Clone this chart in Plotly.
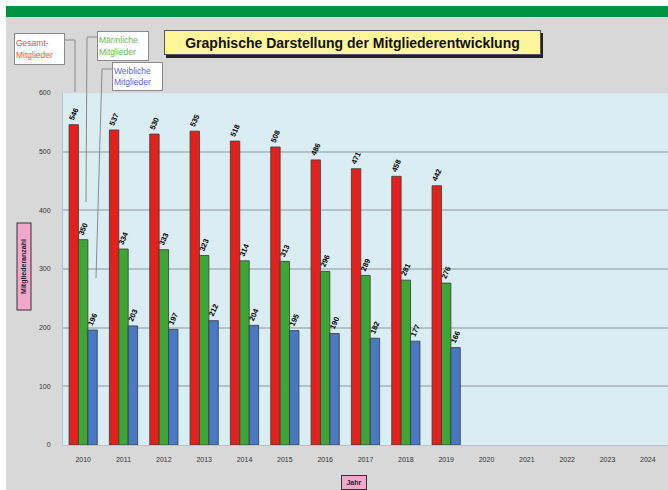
import plotly.graph_objects as go

years = [str(y) for y in range(2010, 2025)]
gesamt = [546, 537, 530, 535, 518, 508, 486, 471, 458, 442]
maennlich = [350, 334, 333, 323, 314, 313, 296, 289, 281, 276]
weiblich = [196, 203, 197, 212, 204, 195, 190, 182, 177, 166]
y_ticks = [0, 100, 200, 300, 400, 500, 600]

W, H = 668, 490
L, R, T, B = 63, 0, 93, 45
PW, PH = W - L - R, H - T - B


def px(x):
    return (x - L) / PW


def py(y):
    return (H - B - y) / PH


fig = go.Figure()
series = [
    ("Gesamt-Mitglieder", gesamt, "#e3211c"),
    ("Männliche Mitglieder", maennlich, "#3fa535"),
    ("Weibliche Mitglieder", weiblich, "#4a78c2"),
]
for name, vals, col in series:
    fig.add_trace(go.Bar(
        x=years[:len(vals)], y=vals, name=name,
        marker=dict(color=col, line=dict(color="#3a3a3a", width=0.8)),
        text=[str(v) for v in vals], textposition="outside",
        textangle=-66, constraintext="none", cliponaxis=False,
        textfont=dict(size=7.5, color="black", family="Liberation Sans", weight="bold"),
    ))

fig.update_layout(
    width=W, height=H, margin=dict(l=L, r=R, t=T, b=B, pad=0),
    paper_bgcolor="#d8d8d8", plot_bgcolor="#daedf2",
    barmode="group", bargap=0.3, bargroupgap=0, showlegend=False,
    font=dict(family="Liberation Sans Narrow, Liberation Sans", size=7, color="#333"),
    xaxis=dict(categoryorder="array", categoryarray=years, tickvals=years,
               range=[-0.5, 14.5], showgrid=False, ticks="", ticklabelstandoff=8,
               showline=True, linecolor="#b8c4c8", linewidth=1,
               tickfont=dict(size=7, color="#333")),
    yaxis=dict(range=[0, 600], tickvals=y_ticks, showgrid=True, gridcolor="#b2c2c6",
               gridwidth=1.6, zeroline=False, showline=True, linecolor="#b8c4c8",
               linewidth=1, ticks="", ticklabelstandoff=10,
               tickfont=dict(size=7, color="#333")),
)

shapes = []
# white border + green header band
shapes.append(dict(type="rect", xref="paper", yref="paper", x0=px(0), x1=px(W), y0=py(0), y1=py(6),
                   fillcolor="white", line=dict(width=0), layer="above"))
shapes.append(dict(type="rect", xref="paper", yref="paper", x0=px(0), x1=px(6), y0=py(0), y1=py(H),
                   fillcolor="white", line=dict(width=0), layer="above"))
shapes.append(dict(type="rect", xref="paper", yref="paper", x0=px(6), x1=px(W), y0=py(6), y1=py(17),
                   fillcolor="#00923f", line=dict(width=0), layer="above"))
# title shadow
shapes.append(dict(type="rect", xref="paper", yref="paper", x0=px(166), x1=px(543), y0=py(33), y1=py(58),
                   fillcolor="#222", line=dict(width=0), layer="above"))
# leader lines
lc = dict(color="#8a8a8a", width=1)
for pts in [[(64, 40), (75, 40), (75, 92)],
            [(98, 37), (87, 37), (86, 202)],
            [(113, 69), (102, 69), (96, 278)]]:
    path = "M " + " L ".join(f"{px(a)},{py(b)}" for a, b in pts)
    shapes.append(dict(type="path", xref="paper", yref="paper", path=path, line=lc, layer="above"))
fig.update_layout(shapes=shapes)

ann = []
ann.append(dict(text="<b>Graphische Darstellung der Mitgliederentwicklung</b>", xref="paper", yref="paper",
                x=px(352), y=py(43), showarrow=False, xanchor="center", yanchor="middle",
                font=dict(family="Liberation Sans", size=14, color="#111"),
                bgcolor="#fdf59a", bordercolor="#555", borderwidth=1, width=373, height=21))
for txt, cx, cy, w, h, col in [("Gesamt-<br>Mitglieder", 39.5, 49, 47, 28, "#f0562a"),
                               ("Männliche<br>Mitglieder", 123, 46, 48, 26, "#6cb84a"),
                               ("Weibliche<br>Mitglieder", 137.5, 76.5, 47, 25, "#5a64d0")]:
    ann.append(dict(text=txt, xref="paper", yref="paper", x=px(cx), y=py(cy), showarrow=False,
                    xanchor="center", yanchor="middle", align="left",
                    font=dict(family="Liberation Sans", size=8.5, color=col),
                    bgcolor="white", bordercolor="#8a8a8a", borderwidth=1, width=w, height=h))
ann.append(dict(text="<b>Jahr</b>", xref="paper", yref="paper", x=px(354), y=py(482), showarrow=False,
                xanchor="center", yanchor="middle", font=dict(family="Liberation Sans", size=7, color="#222"),
                bgcolor="#f2a7cc", bordercolor="#333", borderwidth=1, width=22, height=11))
ann.append(dict(text="<b>Mitgliederanzahl</b>", xref="paper", yref="paper", x=px(23.5), y=py(267), showarrow=False,
                xanchor="center", yanchor="middle", textangle=-90,
                font=dict(family="Liberation Sans", size=7, color="#222"),
                bgcolor="#f2a7cc", bordercolor="#333", borderwidth=1, width=84, height=11))
fig.update_layout(annotations=ann)

fig.write_html("out.html", config={"displayModeBar": False},
               post_script="document.body.style.margin='0px';document.body.style.overflow='hidden';")
